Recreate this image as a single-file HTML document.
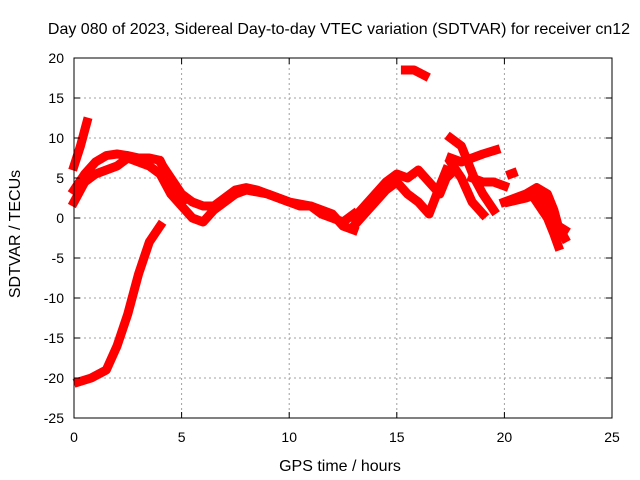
<!DOCTYPE html>
<html><head><meta charset="utf-8"><style>
html,body{margin:0;padding:0;background:#fff}
svg{display:block;font-family:"Liberation Sans",sans-serif}
</style></head><body>
<svg id="chart" width="640" height="480" viewBox="0 0 640 480">
<rect width="640" height="480" fill="#fff"/>
<text x="339" y="34" font-size="16" text-anchor="middle">Day 080 of 2023, Sidereal Day-to-day VTEC variation (SDTVAR) for receiver cn12</text>
<text x="340" y="471" font-size="16" text-anchor="middle">GPS time / hours</text>
<text transform="translate(20,234) rotate(-90)" font-size="16" text-anchor="middle">SDTVAR / TECUs</text>
<g id="grid"></g><g id="series"></g><g id="axes"></g>
</svg>
<script>
const xTicks=[0,5,10,15,20,25];
const yTicks=[20,15,10,5,0,-5,-10,-15,-20,-25];
const traces=[
[[0,6.5],[0.3,9],[0.6,12]],
[[0.2,-20.5],[0.8,-20],[1.5,-19],[2,-16],[2.5,-12],[3,-7],[3.5,-3],[4,-1]],
[[0,3.5],[0.5,5.5],[1,7],[1.5,7.8],[2,8],[2.5,7.8],[3,7.5],[3.5,7.5],[4,7.2],[4.3,5.5],[4.6,3.5],[5,2]],
[[0,2],[0.5,4.5],[1,5.5],[1.5,6],[2,6.5],[2.5,7.5],[3,7],[3.5,6.5],[4,5.5],[4.5,3],[5,1.5],[5.5,0],[6,-0.5],[6.5,1],[7,2],[7.5,3],[8,3.5],[9,3],[10,2],[11,1.5],[11.5,1],[12,0.5],[12.5,-1],[13,-1.5]],
[[4,7],[4.5,5],[5,3],[5.5,2],[6,1.5],[6.5,1.5],[7,2.5],[7.5,3.5],[8,3.8],[8.5,3.5],[9,3],[9.5,2.5],[10,2],[10.5,1.5],[11,1.5],[11.5,0.5],[12,0],[12.5,-0.5],[13,0.5]],
[[13,0],[13.5,1.5],[14,3],[14.5,4.5],[15,5.5],[15.5,5],[16,6],[16.5,4.5],[17,3],[17.3,5],[17.5,5.5]],
[[13,-1],[13.5,0.5],[14,2],[14.5,3.5],[15,4.5],[15.5,3],[16,2],[16.5,0.5],[17,4],[17.3,6]],
[[15.4,18.5],[15.8,18.5],[16.3,17.8]],
[[17.5,10],[18,9],[18.3,7],[18.6,5],[19,3],[19.5,1]],
[[17.5,7.5],[18,7],[18.5,7.5],[19,8],[19.6,8.5]],
[[17.5,7],[18,5],[18.5,2],[19,0.5]],
[[18.5,5],[19,4.5],[19.5,4.5],[20,4]],
[[20,2],[20.5,2.5],[21,3],[21.5,3.8],[22,3],[22.3,1],[22.5,-1],[22.8,-1.5]],
[[20.2,2],[21,2.5],[21.5,3],[22,2],[22.5,-1],[22.8,-2.5]],
[[21.5,2],[22,0],[22.3,-2],[22.5,-3.5]],
[[20.3,5.5],[20.4,5.6]]
];
const X0=74,X1=612,Y0=418,Y1=58,XMIN=0,XMAX=25,YMIN=-25,YMAX=20;
const sx=v=>X0+(v-XMIN)/(XMAX-XMIN)*(X1-X0);
const sy=v=>Y0-(v-YMIN)/(YMAX-YMIN)*(Y0-Y1);
const NS="http://www.w3.org/2000/svg";
const mk=(t,a)=>{const e=document.createElementNS(NS,t);for(const k in a)e.setAttribute(k,a[k]);return e;};
const grid=document.getElementById('grid'),axes=document.getElementById('axes'),ser=document.getElementById('series');
xTicks.forEach(t=>{
 const x=sx(t);
 if(t>XMIN&&t<XMAX){const g=mk('line',{x1:x,x2:x,y1:Y1,y2:Y0,stroke:'#a0a0a0','stroke-dasharray':'2,3'});grid.appendChild(g);}
 axes.appendChild(mk('line',{x1:x,x2:x,y1:Y0,y2:Y0-6,stroke:'#000'}));
 axes.appendChild(mk('line',{x1:x,x2:x,y1:Y1,y2:Y1+6,stroke:'#000'}));
 const l=mk('text',{x:x,y:Y0+24,'font-size':14,'text-anchor':'middle'});l.textContent=t;
 
 
 axes.appendChild(l);
});
yTicks.forEach(t=>{
 const y=sy(t);
 if(t>YMIN&&t<YMAX){const g=mk('line',{x1:X0,x2:X1,y1:y,y2:y,stroke:'#a0a0a0','stroke-dasharray':'2,3'});grid.appendChild(g);}
 axes.appendChild(mk('line',{x1:X0,x2:X0+6,y1:y,y2:y,stroke:'#000'}));
 axes.appendChild(mk('line',{x1:X1,x2:X1-6,y1:y,y2:y,stroke:'#000'}));
 const l=mk('text',{x:X0-10,y:y+5,'font-size':14,'text-anchor':'end'});l.textContent=t;
 
 
 axes.appendChild(l);
});
const fr=mk('rect',{x:X0,y:Y1,width:X1-X0,height:Y0-Y1,fill:'none',stroke:'#000'});


axes.appendChild(fr);
traces.forEach(tr=>{
 const p=mk('polyline',{points:tr.map(d=>sx(d[0])+','+sy(d[1])).join(' '),fill:'none',stroke:'#f00','stroke-width':9,'stroke-linejoin':'round','stroke-linecap':'square'});
 
 
 ser.appendChild(p);
});
</script>
</body></html>
